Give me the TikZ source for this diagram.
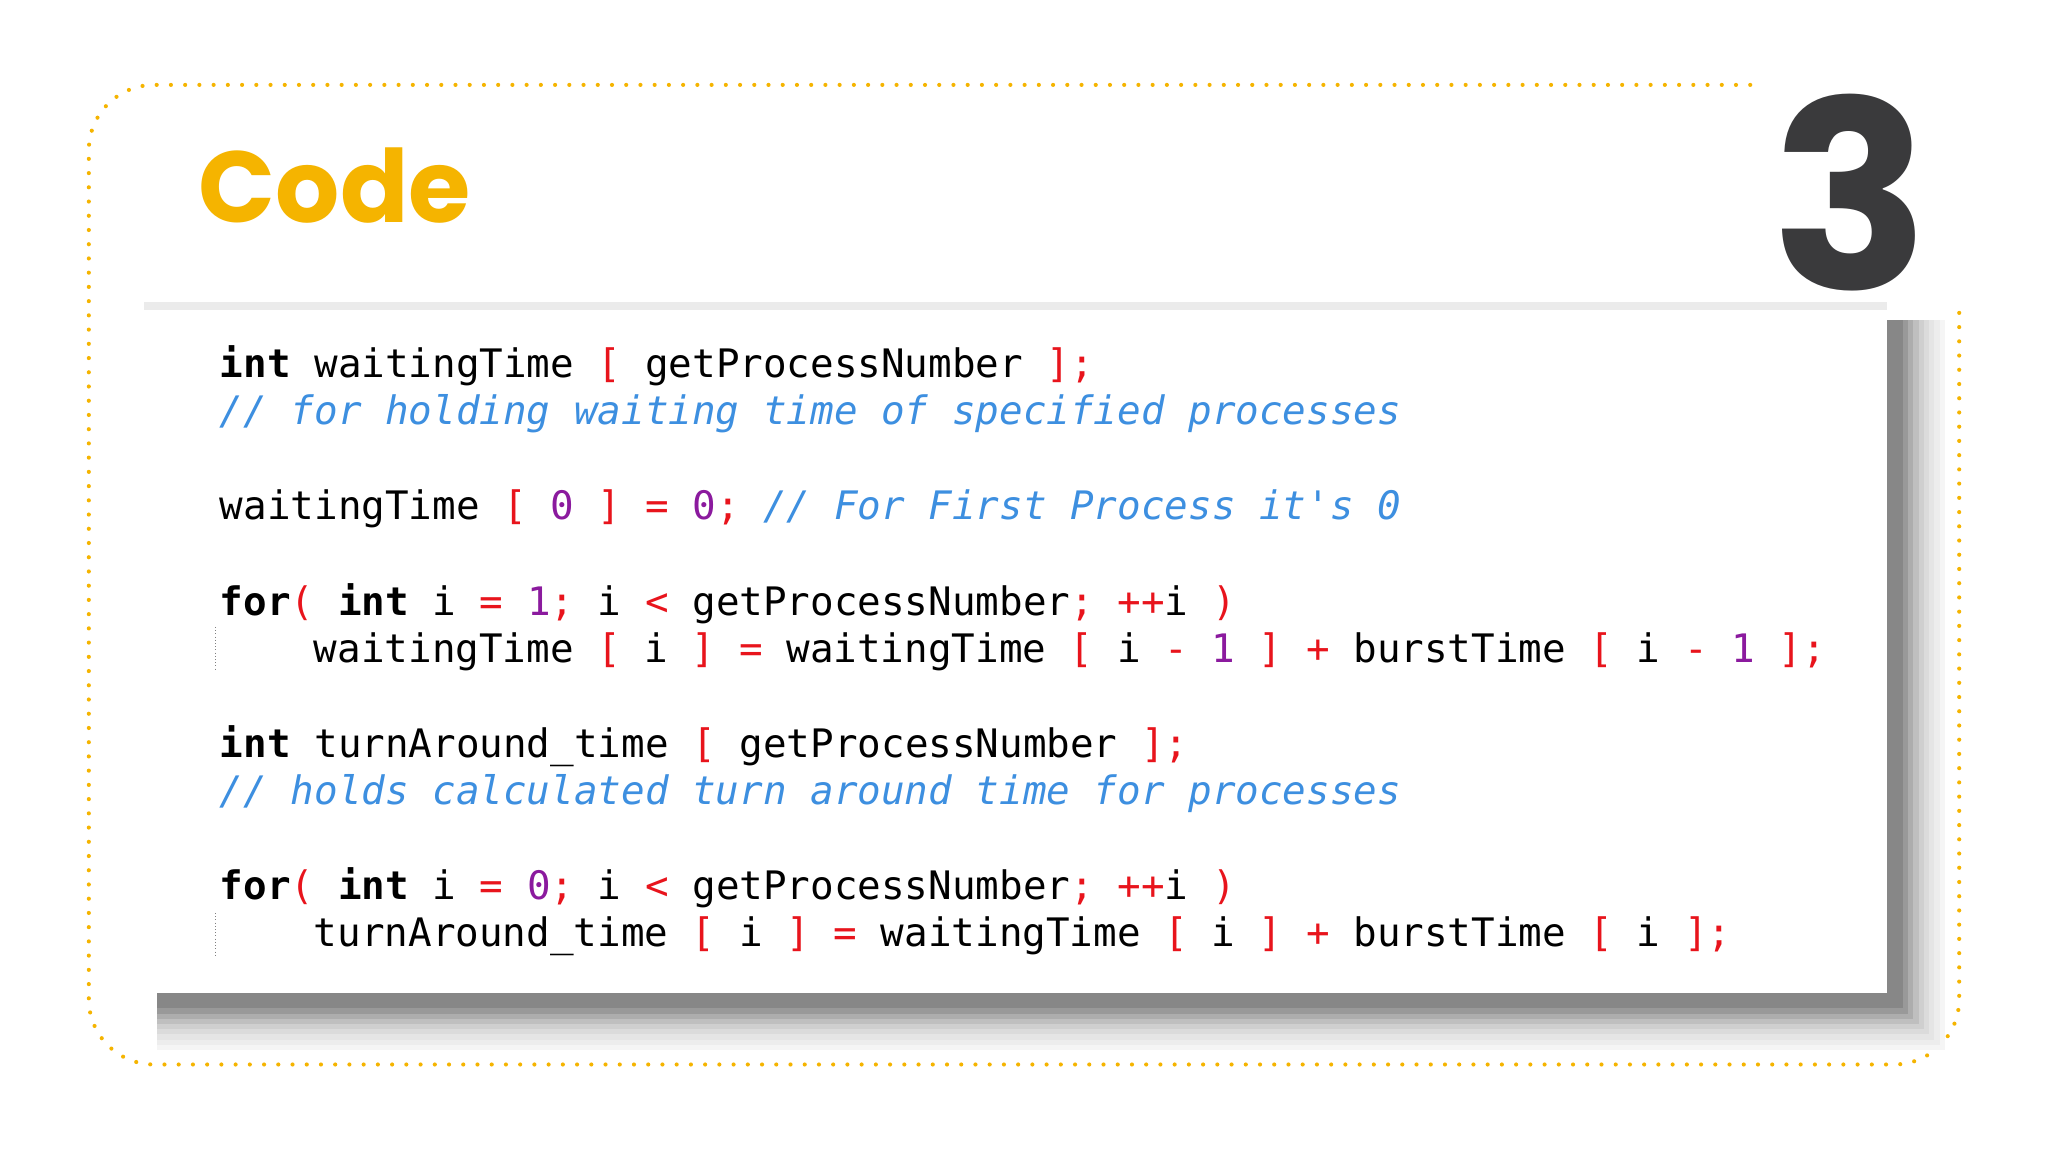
\documentclass[tikz,border=0pt]{standalone}
\usepackage{fontspec}
\setmonofont{DejaVu Sans Mono}
\newfontfamily\pop{Poppins}
\definecolor{cred}{HTML}{E8141C}
\definecolor{cpur}{HTML}{8B1A9E}
\definecolor{ccom}{HTML}{3D8FE0}
\definecolor{corg}{HTML}{F5B400}
\definecolor{cdark}{HTML}{3A3A3C}
\newcommand\R[1]{\textcolor{cred}{#1}}
\newcommand\Pu[1]{\textcolor{cpur}{#1}}
\newcommand\Cm[1]{\textcolor{ccom}{\itshape #1}}
\begin{document}
\begin{tikzpicture}[x=0.02cm,y=-0.02cm,
  code/.style={anchor=base west,inner sep=0,font=\ttfamily\fontsize{17.1}{20}\selectfont},
  border/.style={corg,line width=1.8pt,dash pattern=on 0pt off 6.2pt,line cap=round}]
\useasboundingbox[fill=white] (0,0) rectangle (1568,882);
% border
\draw[border,rounded corners=50*0.02cm] (1340,65) -- (68,65) -- (68,815) -- (1500,815) -- (1500,230);
% shadow
\foreach \o/\g in {44/4,40/7,36/10,32/14,28/19,24/25,20/32,16/40,12/47}{
  \fill[black!\g] (120,245) rectangle (1445+\o,760+\o);}
\fill[black!8] (110,231) rectangle (1445,239);
\fill[white] (100,237) rectangle (1445,760);
% title and number
\node[anchor=base west,inner sep=0,text=corg,font=\pop\bfseries\fontsize{44}{44}\selectfont] (title) at (152,170) {Code};
\node[anchor=base east,inner sep=0,text=cdark,font=\pop\bfseries\fontsize{114}{114}\selectfont] (num) at (1478,222) {3};
% indent guides
\draw[black!50,densely dotted] (165,480) -- (165,514);
\draw[black!50,densely dotted] (165,699) -- (165,733);
% code
\node[code] (l1) at (168,289) {\textbf{int} waitingTime \R{[} getProcessNumber \R{];}};
\node[code] (l2) at (168,325) {\Cm{// for holding waiting time of specified processes}};
\node[code] (l3) at (168,398) {waitingTime \R{[} \Pu{0} \R{]} \R{=} \Pu{0}\R{;} \Cm{// For First Process it's 0}};
\node[code] (l4) at (168,471) {\textbf{for}\R{(} \textbf{int} i \R{=} \Pu{1}\R{;} i \R{<} getProcessNumber\R{;} \R{++}i \R{)}};
\node[code] (l5) at (240,507) {waitingTime \R{[} i \R{]} \R{=} waitingTime \R{[} i \R{-} \Pu{1} \R{]} \R{+} burstTime \R{[} i \R{-} \Pu{1} \R{];}};
\node[code] (l6) at (168,580) {\textbf{int} turnAround\_time \R{[} getProcessNumber \R{];}};
\node[code] (l7) at (168,616) {\Cm{// holds calculated turn around time for processes}};
\node[code] (l8) at (168,689) {\textbf{for}\R{(} \textbf{int} i \R{=} \Pu{0}\R{;} i \R{<} getProcessNumber\R{;} \R{++}i \R{)}};
\node[code] (l9) at (240,725) {turnAround\_time \R{[} i \R{]} \R{=} waitingTime \R{[} i \R{]} \R{+} burstTime \R{[} i \R{];}};
\end{tikzpicture}
\end{document}
